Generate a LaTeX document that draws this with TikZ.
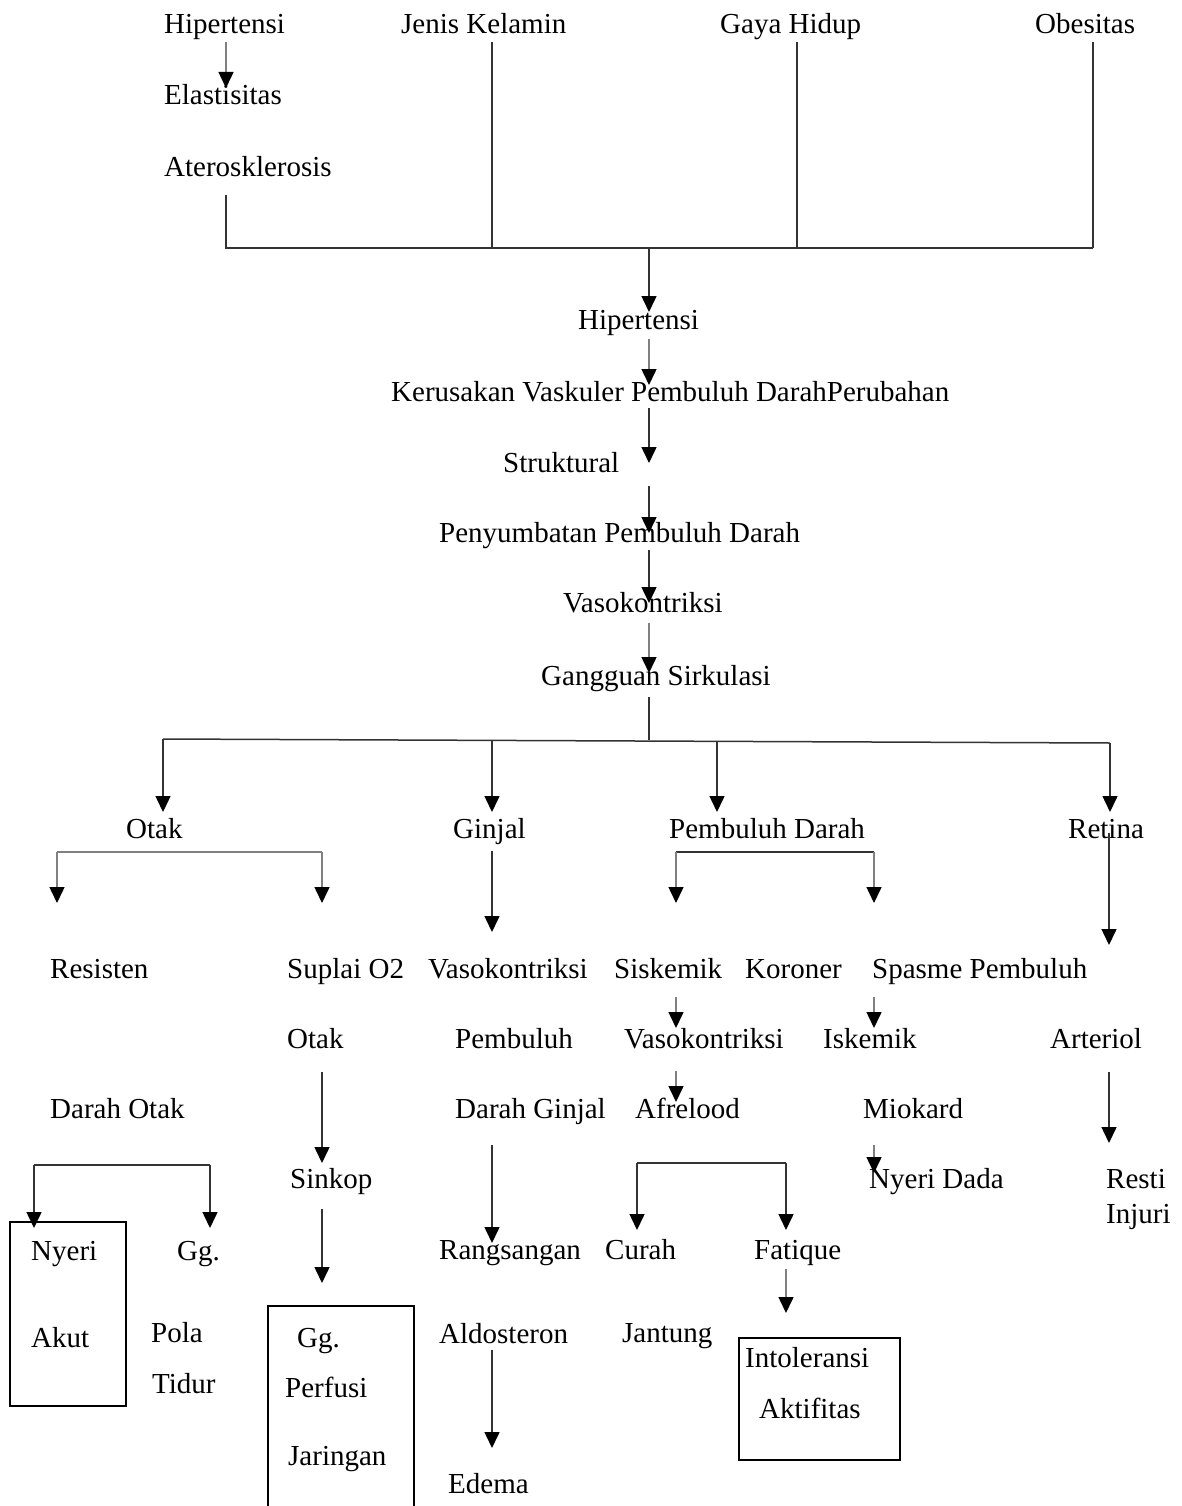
\documentclass[tikz,border=0pt]{standalone}
\usepackage{fontspec}
\setmainfont{Liberation Serif}
\usetikzlibrary{arrows.meta}
\begin{document}
\begin{tikzpicture}[x=1pt,y=-1pt,
 txt/.style={anchor=base west,inner sep=0pt,font=\fontsize{29}{34}\selectfont},
 ln/.style={line width=1.5pt,draw=black!80},
 lnl/.style={line width=1.5pt,draw=black!50},
 arr/.style={ln,-{Triangle[length=16pt,width=15pt,color=black]}},
 arrl/.style={lnl,-{Triangle[length=16pt,width=15pt,color=black]}},
 boxst/.style={draw=black,line width=2pt}]
\useasboundingbox (0,0) rectangle (1181,1506);

% ---- top row
\node[txt] (hip1) at (164,34) {Hipertensi};
\node[txt] (jk) at (401,34) {Jenis Kelamin};
\node[txt] (gh) at (720,34) {Gaya Hidup};
\node[txt] (ob) at (1035,34) {Obesitas};
\node[txt] (ela) at (164,105) {Elastisitas};
\node[txt] (ate) at (164,177) {Aterosklerosis};

% ---- main chain
\node[txt] (hip2) at (578,329) {Hipertensi};
\node[txt] (ker) at (391,401) {Kerusakan Vaskuler Pembuluh DarahPerubahan};
\node[txt] (str) at (503,472) {Struktural};
\node[txt] (pen) at (439,542) {Penyumbatan Pembuluh Darah};
\node[txt] (vas) at (563,612) {Vasokontriksi};
\node[txt] (gan) at (541,685) {Gangguan Sirkulasi};

% ---- organs
\node[txt] (otak) at (126,838) {Otak};
\node[txt] (ginjal) at (453,838) {Ginjal};
\node[txt] (pd) at (669,838) {Pembuluh Darah};
\node[txt] (retina) at (1068,838) {Retina};

% ---- row 978
\node[txt] (res) at (50,978) {Resisten};
\node[txt] (sup) at (287,978) {Suplai O2};
\node[txt] (vas2) at (428,978) {Vasokontriksi};
\node[txt] (sis) at (614,978) {Siskemik};
\node[txt] (kor) at (745,978) {Koroner};
\node[txt] (spa) at (872,978) {Spasme Pembuluh};

% ---- row 1048
\node[txt] (otak2) at (287,1048) {Otak};
\node[txt] (pem) at (455,1048) {Pembuluh};
\node[txt] (vas3) at (624,1048) {Vasokontriksi};
\node[txt] (isk) at (823,1048) {Iskemik};
\node[txt] (art) at (1050,1048) {Arteriol};

% ---- row 1118
\node[txt] (dotak) at (50,1118) {Darah Otak};
\node[txt] (dgin) at (455,1118) {Darah Ginjal};
\node[txt] (afr) at (635,1118) {Afrelood};
\node[txt] (mio) at (863,1118) {Miokard};

% ---- row 1188
\node[txt] (sin) at (290,1188) {Sinkop};
\node[txt] (nd) at (869,1188) {Nyeri Dada};
\node[txt] (resti) at (1106,1188) {Resti};
\node[txt] (inj) at (1106,1223) {Injuri};

% ---- row 1259
\node[txt] (nyeri) at (31,1260) {Nyeri};
\node[txt] (gg1) at (177,1260) {Gg.};
\node[txt] (rang) at (439,1259) {Rangsangan};
\node[txt] (cur) at (605,1259) {Curah};
\node[txt] (fat) at (754,1259) {Fatique};

% ---- lower rows
\node[txt] (akut) at (31,1347) {Akut};
\node[txt] (pola) at (151,1342) {Pola};
\node[txt] (tid) at (152,1393) {Tidur};
\node[txt] (gg2) at (297,1347) {Gg.};
\node[txt] (perf) at (285,1397) {Perfusi};
\node[txt] (jar) at (288,1465) {Jaringan};
\node[txt] (ald) at (439,1343) {Aldosteron};
\node[txt] (ede) at (448,1493) {Edema};
\node[txt] (jan) at (622,1342) {Jantung};
\node[txt] (int) at (745,1367) {Intoleransi};
\node[txt] (akt) at (759,1418) {Aktifitas};

% ---- boxes
\draw[boxst] (10,1222) rectangle (126,1406);
\draw[boxst] (268,1306) rectangle (414,1530);
\draw[boxst] (739,1338) rectangle (900,1460);

% ---- coordinates for connectors
\coordinate (a1) at (226,42);  \coordinate (a1e) at (226,88);
\coordinate (at1) at (226,195); \coordinate (at2) at (226,248);
\coordinate (jk1) at (492,42);  \coordinate (jk2) at (492,248);
\coordinate (gh1) at (797,42);  \coordinate (gh2) at (797,248);
\coordinate (ob1) at (1093,42); \coordinate (ob2) at (1093,248);
\coordinate (m0) at (649,248);  \coordinate (m0e) at (649,312);
\coordinate (m1) at (649,339);  \coordinate (m1e) at (649,385);
\coordinate (m2) at (649,408);  \coordinate (m2e) at (649,463);
\coordinate (m3) at (649,486);  \coordinate (m3e) at (649,533);
\coordinate (m4) at (649,550);  \coordinate (m4e) at (649,603);
\coordinate (m5) at (649,623);  \coordinate (m5e) at (649,673);
\coordinate (m6) at (649,697);  \coordinate (m6e) at (649,740);
\coordinate (hL) at (163,739);  \coordinate (hR) at (1110,743);
\coordinate (oL) at (163,739);  \coordinate (oLe) at (163,812);
\coordinate (gT) at (492,740);  \coordinate (gTe) at (492,812);
\coordinate (pT) at (717,741);  \coordinate (pTe) at (717,812);
\coordinate (rT) at (1110,743); \coordinate (rTe) at (1110,812);
% otak split
\coordinate (os1) at (57,852);  \coordinate (os1e) at (57,903);
\coordinate (os2) at (322,852); \coordinate (os2e) at (322,903);
% ginjal
\coordinate (g1) at (492,851);  \coordinate (g1e) at (492,932);
% pembuluh darah split
\coordinate (ps1) at (676,852); \coordinate (ps1e) at (676,903);
\coordinate (ps2) at (874,852); \coordinate (ps2e) at (874,903);
% retina
\coordinate (r1) at (1109,833); \coordinate (r1e) at (1109,945);
% siskemik / spasme
\coordinate (s1) at (676,997);  \coordinate (s1e) at (676,1028);
\coordinate (s2) at (874,997);  \coordinate (s2e) at (874,1028);
\coordinate (v1) at (676,1071); \coordinate (v1e) at (676,1102);
% otak -> sinkop
\coordinate (ot1) at (322,1072); \coordinate (ot1e) at (322,1163);
\coordinate (sk1) at (322,1209); \coordinate (sk1e) at (322,1283);
% ginjal chain
\coordinate (dg1) at (492,1145); \coordinate (dg1e) at (492,1243);
\coordinate (al1) at (492,1350); \coordinate (al1e) at (492,1448);
% arteriol
\coordinate (ar1) at (1109,1072); \coordinate (ar1e) at (1109,1143);
% miokard
\coordinate (mk1) at (874,1145); \coordinate (mk1e) at (874,1173);
% darah otak split
\coordinate (do1) at (34,1165);  \coordinate (do1e) at (34,1228);
\coordinate (do2) at (210,1165); \coordinate (do2e) at (210,1228);
% afrelood split
\coordinate (af1) at (637,1163); \coordinate (af1e) at (637,1230);
\coordinate (af2) at (786,1163); \coordinate (af2e) at (786,1230);
% fatique
\coordinate (ft1) at (786,1269); \coordinate (ft1e) at (786,1313);

% ---- connectors
\draw[arrl] (a1) -- (a1e);
\draw[ln] (at1) -- (at2) -- (ob2);
\draw[ln] (jk1) -- (jk2);
\draw[ln] (gh1) -- (gh2);
\draw[ln] (ob1) -- (ob2);
\draw[arr] (m0) -- (m0e);
\draw[arrl] (m1) -- (m1e);
\draw[arr] (m2) -- (m2e);
\draw[arr] (m3) -- (m3e);
\draw[arr] (m4) -- (m4e);
\draw[arrl] (m5) -- (m5e);
\draw[ln] (m6) -- (m6e);
\draw[ln] (hL) -- (hR);
\draw[arr] (oL) -- (oLe);
\draw[arr] (gT) -- (gTe);
\draw[arr] (pT) -- (pTe);
\draw[arr] (rT) -- (rTe);
\draw[lnl] (os1) -- (os2);
\draw[arrl] (os1) -- (os1e);
\draw[arrl] (os2) -- (os2e);
\draw[arr] (g1) -- (g1e);
\draw[ln] (ps1) -- (ps2);
\draw[arrl] (ps1) -- (ps1e);
\draw[arrl] (ps2) -- (ps2e);
\draw[arr] (r1) -- (r1e);
\draw[arrl] (s1) -- (s1e);
\draw[arrl] (s2) -- (s2e);
\draw[arrl] (v1) -- (v1e);
\draw[arr] (ot1) -- (ot1e);
\draw[arr] (sk1) -- (sk1e);
\draw[arr] (dg1) -- (dg1e);
\draw[arr] (al1) -- (al1e);
\draw[arr] (ar1) -- (ar1e);
\draw[arrl] (mk1) -- (mk1e);
\draw[ln] (do1) -- (do2);
\draw[arr] (do1) -- (do1e);
\draw[arr] (do2) -- (do2e);
\draw[ln] (af1) -- (af2);
\draw[arr] (af1) -- (af1e);
\draw[arr] (af2) -- (af2e);
\draw[arrl] (ft1) -- (ft1e);
\end{tikzpicture}
\end{document}
